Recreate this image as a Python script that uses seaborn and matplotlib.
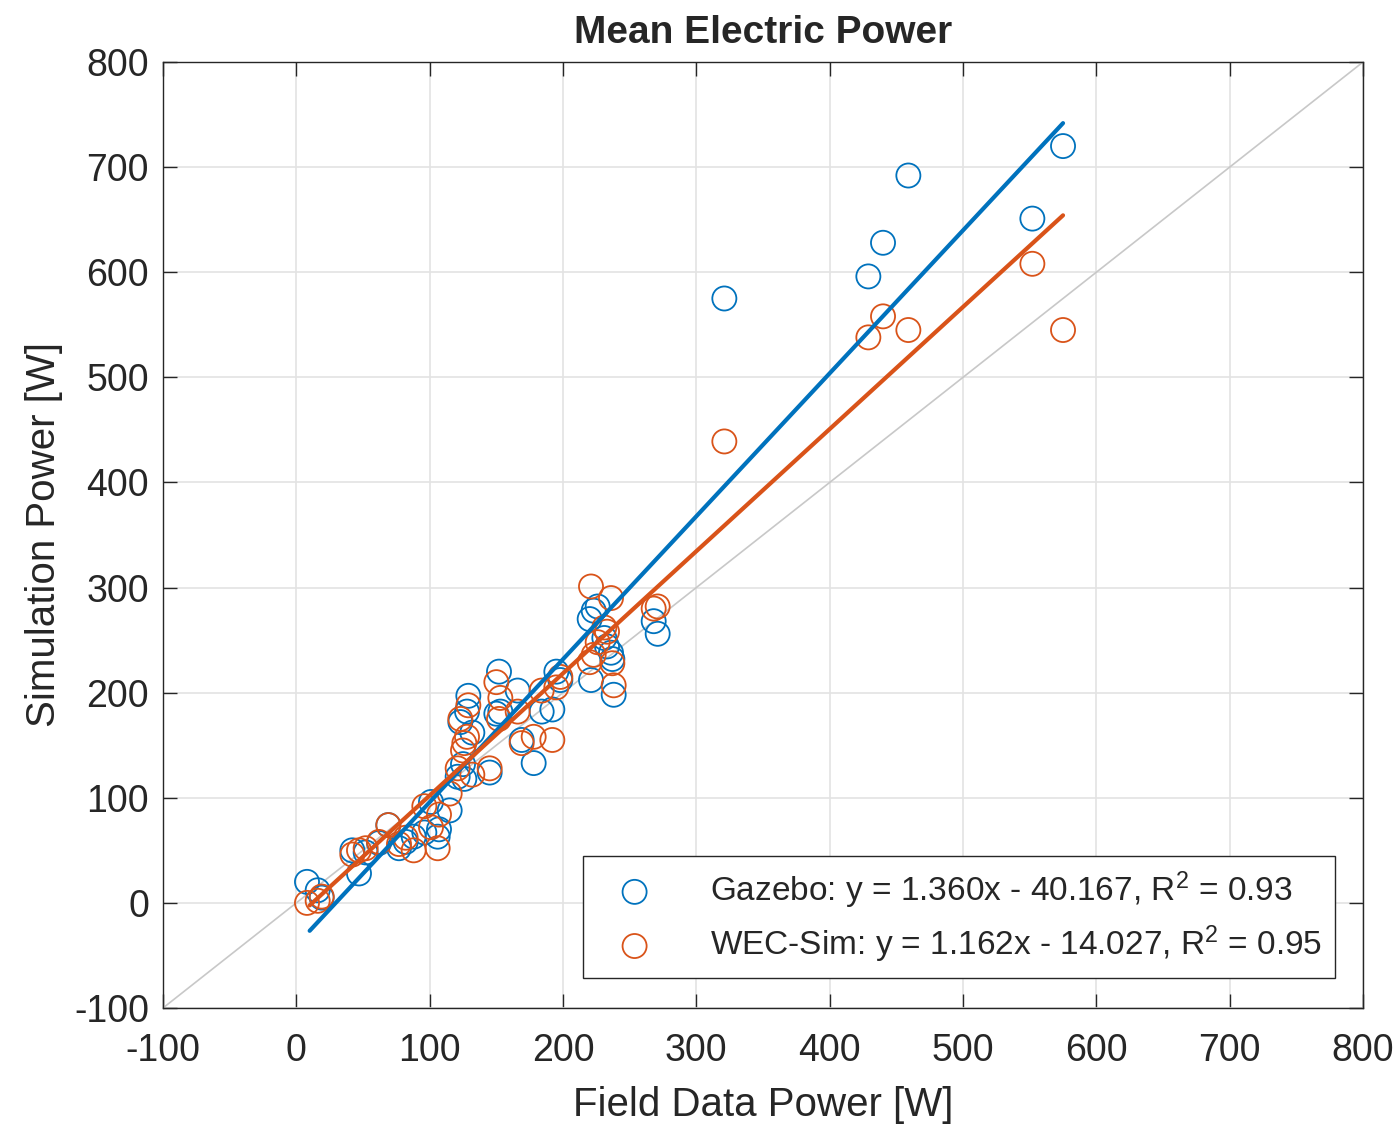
import numpy as np
import pandas as pd
import matplotlib
matplotlib.use("Agg")
import matplotlib.pyplot as plt
import seaborn as sns

# field data power (shared x) and simulated power for each model
field = [8, 16, 19, 42, 47, 52, 62, 69, 77, 82, 88, 96, 101, 106, 107, 115,
         121, 123, 125, 126, 128, 129, 132, 145, 150, 152, 153, 166, 169, 178,
         184, 192, 195, 198, 220, 221, 223, 226, 231, 233, 236, 237, 238,
         268, 271, 321, 429, 440, 459, 552, 575]
gazebo = [20, 12, 5, 50, 28, 48, 57, 74, 52, 58, 63, 67, 96, 63, 70, 88,
          120, 172, 132, 118, 182, 197, 162, 124, 180, 220, 182, 202, 155, 133,
          182, 184, 220, 212, 270, 212, 278, 282, 252, 244, 238, 232, 198,
          268, 256, 575, 596, 628, 692, 651, 720]
wecsim = [0, 2, 6, 46, 50, 52, 58, 74, 56, 62, 50, 92, 72, 52, 84, 104,
          128, 175, 145, 152, 158, 188, 122, 128, 210, 175, 195, 182, 152, 158,
          202, 155, 205, 215, 229, 301, 236, 248, 262, 258, 290, 228, 207,
          280, 282, 439, 538, 558, 545, 608, 545]

# fit coefficients from the legend
fit_gazebo = (1.360, -40.167)
fit_wecsim = (1.162, -14.027)
fit_range = [10, 575]

blue = "#0072BD"
orange = "#D95319"

sns.set_style("ticks")
plt.rcParams['font.family'] = ['Liberation Sans', 'DejaVu Sans']
plt.rcParams['mathtext.fontset'] = 'custom'
plt.rcParams['mathtext.rm'] = 'Liberation Sans'
plt.rcParams['mathtext.it'] = 'Liberation Sans'
plt.rcParams['axes.unicode_minus'] = False

fig = plt.figure(figsize=(13.99, 11.25), dpi=100)
ax = fig.add_axes([0.1165, 0.104, 0.8578, 0.8409])

df = pd.DataFrame({'field': field, 'gazebo': gazebo, 'wecsim': wecsim})

ax.plot([-100, 800], [-100, 800], color="#c8c8c8", lw=1.2, zorder=1)

sns.scatterplot(data=df, x='field', y='gazebo', ax=ax, marker='o', s=300,
                color=blue, facecolors='none', edgecolor=blue, linewidth=1.3,
                label='Gazebo: y = 1.360x - 40.167, R$^2$ = 0.93', zorder=3)
sns.scatterplot(data=df, x='field', y='wecsim', ax=ax, marker='o', s=300,
                color=orange, facecolors='none', edgecolor=orange, linewidth=1.3,
                label='WEC-Sim: y = 1.162x - 14.027, R$^2$ = 0.95', zorder=3)

xs = np.array(fit_range)
ax.plot(xs, fit_gazebo[0] * xs + fit_gazebo[1], color=blue, lw=3, zorder=4)
ax.plot(xs, fit_wecsim[0] * xs + fit_wecsim[1], color=orange, lw=3, zorder=4)

ax.set_xlim(-100, 800)
ax.set_ylim(-100, 800)
ax.set_xticks(range(-100, 801, 100))
ax.set_yticks(range(-100, 801, 100))
ax.grid(True, color="#e3e3e3", lw=1.2)
ax.set_axisbelow(True)
for s in ax.spines.values():
    s.set_color("#262626")
    s.set_linewidth(1.0)
    s.set_visible(True)
ax.tick_params(direction='in', length=10, width=1, top=True, right=True,
               labelsize=27, colors="#262626")
ax.tick_params(axis='x', pad=18)
ax.tick_params(axis='y', pad=10)

ax.set_xlabel('Field Data Power [W]', fontsize=29, color="#262626", labelpad=12)
ax.set_ylabel('Simulation Power [W]', fontsize=29, color="#262626", labelpad=8)
ax.set_title('Mean Electric Power', fontsize=28, fontweight='bold', pad=14)

leg = ax.legend(loc='lower right', bbox_to_anchor=(0.9767, 0.0317), borderaxespad=0,
                fontsize=24, frameon=True, fancybox=False, framealpha=1,
                edgecolor="#262626", handletextpad=1.1, labelspacing=0.38,
                borderpad=0.4, handlelength=2.3)
leg.get_frame().set_linewidth(1.0)

fig.savefig('out.png', dpi=100)
